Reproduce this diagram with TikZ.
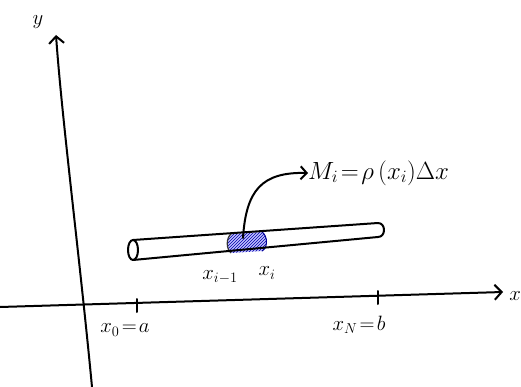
\documentclass[tikz,border=0pt]{standalone}
\usetikzlibrary{arrows.meta,patterns}
\begin{document}
\begin{tikzpicture}[x=1pt,y=-1pt,
  ink/.style={line width=2pt,line cap=round,line join=round},
  axisarrow/.style={ink,-{Straight Barb[length=7pt,width=15pt,line width=2pt]}},
  lbl/.style={inner sep=0pt,font=\fontsize{21}{25}\selectfont},
  smalllbl/.style={inner sep=0pt,font=\fontsize{21}{25}\selectfont}]
\useasboundingbox (0,0) rectangle (521,387);
% axes
\coordinate (ybot) at (92,387);
\coordinate (ytop) at (56,35);
\coordinate (xleft) at (0,307);
\coordinate (xright) at (503,292);
\draw[axisarrow] (ybot) .. controls (80,260) and (62,120) .. (ytop);
\draw[axisarrow] (xleft) -- (xright);
\node[lbl] (ylab) at (38,22) {$y$};
\node[lbl,anchor=east] (xlab) at (521,296) {$x$};
% ticks
\coordinate (ta1) at (137,299); \coordinate (ta2) at (137,312);
\coordinate (tb1) at (378,291); \coordinate (tb2) at (378,304);
\draw[ink] (ta1) -- (ta2);
\draw[ink] (tb1) -- (tb2);
\node[lbl] (alab) at (125,330) {$x_0\!=\!a$};
\node[lbl] (blab) at (359,325) {$x_N\!=\!b$};
% slice (hatched)
\fill[blue!25] (231,234) -- (262,232) .. controls (268,236) and (268,248) .. (262,251) -- (231,253) .. controls (226,249) and (226,238) .. (231,234) -- cycle;
\fill[pattern=north east lines, pattern color=blue!65!black] (231,234) -- (262,232) .. controls (268,236) and (268,248) .. (262,251) -- (231,253) .. controls (226,249) and (226,238) .. (231,234) -- cycle;
\draw[line width=1pt,blue!60!black] (262,232) .. controls (268,236) and (268,248) .. (262,251);
\draw[line width=1.2pt,black!80] (231,234) .. controls (226,238) and (226,249) .. (231,253);
% rod
\coordinate (lt) at (133,240); \coordinate (lb) at (133,260);
\coordinate (rt) at (378,223); \coordinate (rb) at (378,237);
\draw[ink] (lt) -- (rt) .. controls (386,223) and (386,237) .. (rb) -- (lb);
\draw[ink] (133,250) ellipse [x radius=5, y radius=10];
\node[smalllbl] (ximl) at (220,277) {$x_{i-1}$};
\node[smalllbl] (xil) at (267,273) {$x_i$};
% mass label and arrow
\node[lbl,anchor=west,font=\fontsize{23}{27}\selectfont] (mass) at (308,173) {$M_i\!=\!\rho\,(x_i)\Delta x$};
\coordinate (slicetop) at (243,238);
\draw[ink,-{Straight Barb[length=6pt,width=13pt,line width=2pt]}] (slicetop) .. controls (246,190) and (262,172) .. (mass.west);
\end{tikzpicture}
\end{document}
